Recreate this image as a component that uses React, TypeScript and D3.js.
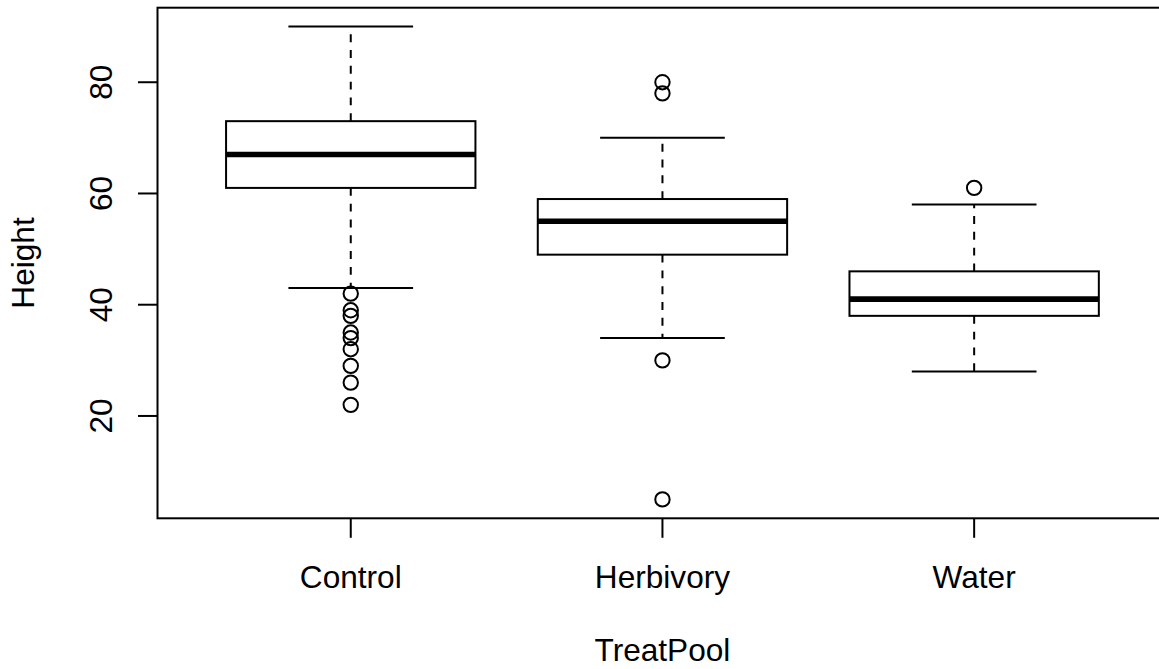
import React from "react";
import * as d3 from "d3";

// Box plot of plant height by treatment pool
const categories = ["Control", "Herbivory", "Water"];
const whiskerLow = [43, 34, 28];
const q1 = [61, 49, 38];
const median = [67, 55, 41];
const q3 = [73, 59, 46];
const whiskerHigh = [90, 70, 58];
const outliersControl = [42, 39, 38, 35, 34, 32, 29, 26, 22];
const outliersHerbivory = [80, 78, 30, 5];
const outliersWater = [61];
const outliers = [outliersControl, outliersHerbivory, outliersWater];
const yTicks = [20, 40, 60, 80];

const W = 1159;
const H = 669;
const left = 157.5;
const top = 7.7;
const bottom = 518.3;
const unit = 311.7;
const FONT = "'Liberation Sans', Arial, Helvetica, sans-serif";
const FS = 31.6;
const LW = 2;

export default function App() {
  const x = d3.scaleLinear().domain([0.38, 3.62]).range([left, left + 3.24 * unit]);
  const y = d3.scaleLinear().domain([1.6, 93.4]).range([bottom, top]);
  const right = x(3.62);
  const bw = x(0.4) - x(0);
  const cw = x(0.2) - x(0);

  return (
    <svg
      width={W}
      height={H}
      style={{ position: "absolute", left: 0, top: 0, background: "#fff" }}
      fontFamily={FONT}
    >
      <rect x={0} y={0} width={W} height={H} fill="#fff" />
      {categories.map((c, i) => {
        const cx = x(i + 1);
        return (
          <g key={c} stroke="#000" fill="none">
            {/* whiskers */}
            <line x1={cx} x2={cx} y1={y(q3[i])} y2={y(whiskerHigh[i])} strokeWidth={LW} strokeDasharray="7.9,7.9" />
            <line x1={cx} x2={cx} y1={y(q1[i])} y2={y(whiskerLow[i])} strokeWidth={LW} strokeDasharray="7.9,7.9" />
            <line x1={cx - cw} x2={cx + cw} y1={y(whiskerHigh[i])} y2={y(whiskerHigh[i])} strokeWidth={LW} />
            <line x1={cx - cw} x2={cx + cw} y1={y(whiskerLow[i])} y2={y(whiskerLow[i])} strokeWidth={LW} />
            {/* box */}
            <rect x={cx - bw} y={y(q3[i])} width={2 * bw} height={y(q1[i]) - y(q3[i])} strokeWidth={LW} fill="#fff" />
            <line x1={cx - bw} x2={cx + bw} y1={y(median[i])} y2={y(median[i])} strokeWidth={5.6} />
            {/* outliers */}
            {outliers[i].map((v, k) => (
              <circle key={k} cx={cx} cy={y(v)} r={7.2} strokeWidth={LW} />
            ))}
          </g>
        );
      })}
      {/* frame */}
      <rect x={left} y={top} width={right - left} height={bottom - top} fill="none" stroke="#000" strokeWidth={LW} />
      {/* y axis */}
      {yTicks.map((t) => (
        <g key={t}>
          <line x1={left - 19.5} x2={left} y1={y(t)} y2={y(t)} stroke="#000" strokeWidth={LW} />
          <text
            transform={`translate(111.7,${y(t)}) rotate(-90)`}
            textAnchor="middle"
            fontSize={FS}
            fill="#000"
          >
            {t}
          </text>
        </g>
      ))}
      {/* x axis */}
      {categories.map((c, i) => (
        <g key={c}>
          <line x1={x(i + 1)} x2={x(i + 1)} y1={bottom} y2={bottom + 19.5} stroke="#000" strokeWidth={LW} />
          <text x={x(i + 1)} y={587.8} textAnchor="middle" fontSize={FS} fill="#000">
            {c}
          </text>
        </g>
      ))}
      <text x={x(2)} y={661} textAnchor="middle" fontSize={FS} fill="#000">
        TreatPool
      </text>
      <text
        transform={`translate(33.5,${(top + bottom) / 2}) rotate(-90)`}
        textAnchor="middle"
        fontSize={FS}
        fill="#000"
      >
        Height
      </text>
    </svg>
  );
}
